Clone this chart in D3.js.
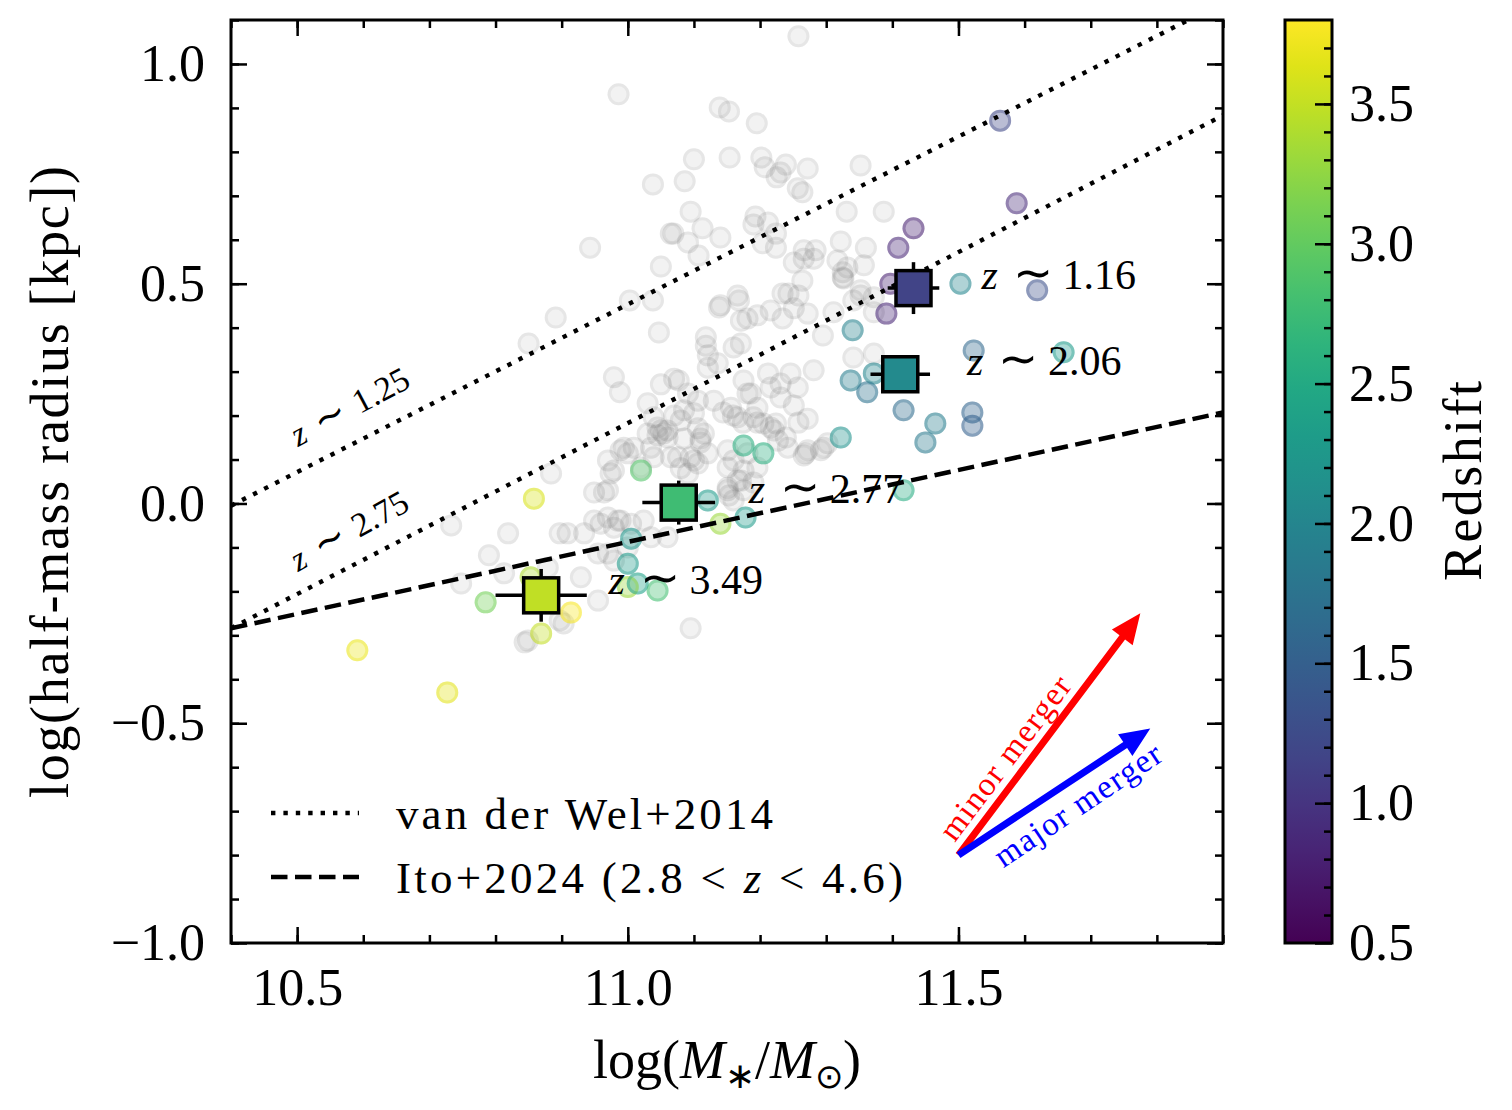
<!DOCTYPE html>
<html><head><meta charset="utf-8">
<script src="https://cdn.jsdelivr.net/npm/d3@7"></script>
<style>
body{margin:0;background:#fff}
svg text{font-family:"Liberation Serif","Times New Roman",serif;fill:#000}
</style>
</head><body>
<svg id="c" width="1512" height="1110"></svg>
<script>
// ---------------- data ----------------
// background (grey) galaxies: [log M*, log r_half]
const greyPoints = [
[11.258,1.063],[10.986,0.931],[11.139,0.901],[11.153,0.892],[11.195,0.865],[11.100,0.783],[11.154,0.787],[11.202,0.787],
[11.239,0.771],[11.272,0.762],[11.207,0.765],[11.225,0.742],[11.231,0.753],[11.257,0.717],[11.264,0.708],[11.352,0.769],
[11.038,0.726],[11.086,0.733],[11.095,0.664],[11.113,0.626],[11.140,0.605],[11.065,0.614],[11.069,0.614],[11.091,0.594],
[10.943,0.582],[11.193,0.653],[11.190,0.635],[11.212,0.639],[11.224,0.614],[11.331,0.664],[11.387,0.664],[11.322,0.596],
[11.360,0.582],[11.266,0.576],[11.284,0.576],[11.107,0.564],[11.204,0.592],[11.224,0.582],[11.050,0.539],[11.251,0.548],
[11.266,0.557],[11.281,0.557],[11.317,0.553],[11.325,0.526],[11.326,0.512],[11.357,0.542],[10.891,0.423],[11.003,0.462],
[11.038,0.462],[11.166,0.473],[11.138,0.446],[11.234,0.478],[11.243,0.478],[11.258,0.473],[11.264,0.507],[11.171,0.416],
[11.181,0.421],[11.196,0.428],[11.216,0.439],[11.234,0.421],[11.251,0.444],[11.272,0.432],[11.311,0.435],[11.352,0.473],
[11.295,0.382],[11.047,0.389],[11.118,0.378],[11.118,0.359],[11.160,0.355],[11.171,0.364],[10.979,0.287],[10.988,0.253],
[11.050,0.271],[11.070,0.284],[11.077,0.280],[11.121,0.309],[11.136,0.319],[11.030,0.228],[11.091,0.250],[11.106,0.234],
[11.130,0.234],[11.175,0.280],[11.186,0.250],[11.212,0.296],[11.216,0.264],[11.231,0.273],[11.231,0.241],[11.246,0.296],
[11.257,0.264],[11.251,0.223],[11.281,0.303],[11.144,0.207],[11.159,0.200],[11.174,0.184],[11.196,0.184],[11.216,0.173],
[11.224,0.182],[11.239,0.150],[11.258,0.184],[11.272,0.193],[11.296,0.127],[11.269,0.114],[11.140,0.451],[11.168,0.462],
[11.121,0.337],[11.039,0.196],[11.045,0.173],[11.054,0.159],[11.035,0.127],[11.070,0.200],[11.085,0.212],[11.100,0.205],
[11.106,0.171],[11.115,0.159],[11.110,0.139],[11.085,0.148],[11.076,0.105],[11.100,0.098],[11.156,0.218],[11.166,0.196],
[11.190,0.196],[11.205,0.182],[11.227,0.143],[10.994,0.127],[11.000,0.114],[10.970,0.098],[10.974,0.068],[10.949,0.025],
[10.964,0.025],[11.065,0.105],[11.080,0.080],[11.106,0.091],[11.121,0.114],[11.151,0.082],[11.160,0.098],[11.171,0.052],
[11.151,0.036],[11.190,0.048],[11.196,0.082],[11.266,0.109],[11.292,0.121],[11.302,0.137],[11.153,0.018],[10.884,0.068],
[10.733,-0.050],[10.819,-0.068],[10.790,-0.118],[10.748,-0.182],[10.813,-0.159],[10.879,-0.146],[10.909,-0.068],[10.934,-0.068],
[10.979,0.075],[11.009,0.127],[11.030,0.159],[11.045,0.155],[11.060,0.166],[10.949,-0.039],[10.959,-0.046],[10.970,-0.032],
[10.979,-0.055],[10.985,-0.039],[11.005,-0.046],[10.929,-0.168],[10.955,-0.221],[10.903,-0.273],[10.849,-0.312],[11.095,-0.284],
[11.020,0.082],[11.039,0.105],[11.095,0.105],[11.160,0.007],[11.175,0.075],[11.181,0.114],[10.955,-0.114],[10.970,-0.114],
[10.979,-0.130],[11.000,-0.100],[11.050,0.166],[11.060,0.150],[10.989,0.121],[11.080,0.189],[11.110,0.148],[11.181,0.250],
[11.196,0.218],[11.221,0.166],[11.272,0.121],[11.242,0.127],[11.151,0.121],[11.166,0.052],[11.151,0.030],[11.175,0.030],
[11.091,0.068],[10.970,0.030],[10.989,-0.039],[11.024,-0.039],[11.035,-0.077],[11.060,-0.077],[10.850,0.364],[10.897,-0.068],
[10.844,-0.316],[10.897,-0.266],[11.332,0.537],[11.325,0.514],[11.352,0.485],[11.372,0.469],[11.341,0.462],[11.372,0.435],
[11.341,0.332],[11.372,0.341]
];
// coloured galaxies
const colMass   = [11.563,11.588,11.432,11.409,11.397,11.391,11.503,11.619,11.340,11.523,11.659,11.337,11.372,11.362,11.417,11.465,11.450,11.521,11.521,11.322,11.417,11.175,11.205,11.020,11.121,11.140,11.178,11.005,11.000,11.000,11.015,11.045,10.858,10.785,10.914,10.869,10.853,10.591,10.727];
const colRadius = [0.871,0.683,0.626,0.582,0.500,0.432,0.500,0.485,0.394,0.348,0.344,0.280,0.296,0.253,0.212,0.182,0.139,0.207,0.177,0.150,0.030,0.132,0.114,0.075,0.007,-0.046,-0.032,-0.080,-0.137,-0.190,-0.182,-0.198,0.011,-0.225,-0.248,-0.296,-0.168,-0.334,-0.430];
const colZ      = [1.20,0.90,0.80,0.85,0.80,0.85,2.00,1.30,1.95,1.60,2.30,1.90,2.00,1.75,1.65,1.90,1.85,1.55,1.50,2.20,2.55,2.60,2.60,2.90,2.30,3.30,2.30,2.25,2.30,3.30,2.40,2.80,3.60,3.10,3.75,3.50,3.40,3.70,3.65];
// binned medians
const binZ      = [1.16,2.06,2.77,3.49];
const binMass   = [11.432,11.412,11.077,10.869];
const binRadius = [0.490,0.294,0.002,-0.209];
const binMassErr   = [0.039,0.045,0.055,0.069];
const binRadiusErr = [0.059,0.030,0.050,0.060];
const binLabels = ["1.16","2.06","2.77","3.49"];
// relations (end points)
const relMass = [10.4,11.9];
const vdw125Radius = [-0.005,1.140];
const vdw275Radius = [-0.284,0.883];
const itoRadius = [-0.284,0.207];
// axis ticks
const xTicks = [10.5,11.0,11.5];
const yTicks = [-1.0,-0.5,0.0,0.5,1.0];
const cbTicks = [0.5,1.0,1.5,2.0,2.5,3.0,3.5];
// merger vectors
const mergerStart = [11.5,-0.80];
const minorEnd = [11.775,-0.250];
const majorEnd = [11.790,-0.512];

// ---------------- layout ----------------
const L=231,R=1223,T=20,B=943;
const x = d3.scaleLinear().domain([10.4,11.9]).range([L,R]);
const y = d3.scaleLinear().domain([-1.0,1.1]).range([B,T]);
const cbX0=1285, cbX1=1332;
const zScale = d3.scaleLinear().domain([0.5,3.8]).range([B,T]);
const color = z => d3.interpolateViridis((z-0.5)/3.3);

const svg = d3.select("#c");
const defs = svg.append("defs");
defs.append("clipPath").attr("id","clip").append("rect").attr("x",L).attr("y",T).attr("width",R-L).attr("height",B-T);
const plot = svg.append("g").attr("clip-path","url(#clip)");

function points(g, data, fx, fy, fc, op){
  const gg = g.append("g");
  gg.selectAll("circle.f").data(data).join("circle").attr("class","f")
    .attr("cx",fx).attr("cy",fy).attr("r",11).attr("fill",fc).attr("fill-opacity",op);
  gg.selectAll("circle.e").data(data).join("circle").attr("class","e")
    .attr("cx",fx).attr("cy",fy).attr("r",9.5).attr("fill","none").attr("stroke",fc).attr("stroke-width",3).attr("stroke-opacity",op);
}
points(plot, greyPoints, d=>x(d[0]), d=>y(d[1]), ()=>"#808080", 0.10);
const colIdx = d3.range(colMass.length);
points(plot, colIdx, i=>x(colMass[i]), i=>y(colRadius[i]), i=>color(colZ[i]), 0.36);

// relations
const line = d3.line().x(d=>x(d[0])).y(d=>y(d[1]));
const rel = (ys)=>relMass.map((m,i)=>[m,ys[i]]);
plot.append("path").attr("d",line(rel(vdw125Radius))).attr("fill","none").attr("stroke","#000").attr("stroke-width",4.4).attr("stroke-dasharray","4.4,8");
plot.append("path").attr("d",line(rel(vdw275Radius))).attr("fill","none").attr("stroke","#000").attr("stroke-width",4.4).attr("stroke-dasharray","4.4,8");
plot.append("path").attr("d",line(rel(itoRadius))).attr("fill","none").attr("stroke","#000").attr("stroke-width",4.5).attr("stroke-dasharray","16.5,7.5");

// line labels
function zLabel(g, cx, cy, rot, fs, num, gap1, gap2){
  const t = g.append("text").attr("transform",`translate(${cx},${cy}) rotate(${rot})`).attr("font-size",fs);
  t.append("tspan").attr("x",0).attr("font-style","italic").text("z");
  t.append("tspan").attr("x",gap1).attr("font-size",fs*1.15).text("\u223C");
  t.append("tspan").attr("x",gap2).text(num);
  return t;
}
zLabel(svg, 298, 447, -28, 34, "1.25", 26, 70);
zLabel(svg, 298, 572, -29, 34, "2.75", 26, 70);

// binned squares
const bins = svg.append("g");
binZ.forEach((z,i)=>{
  const cx=x(binMass[i]), cy=y(binRadius[i]);
  bins.append("line").attr("x1",x(binMass[i]-binMassErr[i])).attr("x2",x(binMass[i]+binMassErr[i])).attr("y1",cy).attr("y2",cy).attr("stroke","#000").attr("stroke-width",3.5);
  bins.append("line").attr("x1",cx).attr("x2",cx).attr("y1",y(binRadius[i]-binRadiusErr[i])).attr("y2",y(binRadius[i]+binRadiusErr[i])).attr("stroke","#000").attr("stroke-width",3.5);
  bins.append("rect").attr("x",cx-17.5).attr("y",cy-17.5).attr("width",35).attr("height",35).attr("fill",color(z)).attr("stroke","#000").attr("stroke-width",3.5);
});
// bin annotations
const annPos = [[11.535,0.487],[11.513,0.292],[11.183,0.000],[10.971,-0.205]];
binLabels.forEach((lab,i)=>{
  zLabel(svg, x(annPos[i][0]), y(annPos[i][1]), 0, 42, lab, 31, 81);
});

// merger arrows
function arrow(s, e, col, w, hl, hw){
  const sx=x(s[0]), sy=y(s[1]), ex=x(e[0]), ey=y(e[1]);
  const dx=ex-sx, dy=ey-sy, len=Math.hypot(dx,dy);
  const ux=dx/len, uy=dy/len, nx=-uy, ny=ux;
  const bx=ex-ux*hl, by=ey-uy*hl;
  const pts=[[sx+nx*w/2,sy+ny*w/2],[bx+nx*w/2,by+ny*w/2],[bx+nx*hw/2,by+ny*hw/2],[ex,ey],
             [bx-nx*hw/2,by-ny*hw/2],[bx-nx*w/2,by-ny*w/2],[sx-nx*w/2,sy-ny*w/2]];
  svg.append("polygon").attr("points",pts.map(p=>p.join(",")).join(" ")).attr("fill",col);
}
arrow(mergerStart, minorEnd, "#ff0000", 7, 30, 26);
arrow(mergerStart, majorEnd, "#0000ff", 7, 30, 26);
svg.append("text").attr("transform","translate(1005,757) rotate(-53)").attr("text-anchor","middle").attr("dy","0.35em")
  .attr("font-size",33).style("fill","#ff0000").attr("letter-spacing",1.5).text("minor merger");
svg.append("text").attr("transform","translate(1078,804) rotate(-34)").attr("text-anchor","middle").attr("dy","0.35em")
  .attr("font-size",33).style("fill","#0000ff").attr("letter-spacing",1.5).text("major merger");

// legend
const lg = svg.append("g");
lg.append("line").attr("x1",271).attr("x2",359).attr("y1",813).attr("y2",813).attr("stroke","#000").attr("stroke-width",4.4).attr("stroke-dasharray","4.4,8");
lg.append("line").attr("x1",271).attr("x2",359).attr("y1",877).attr("y2",877).attr("stroke","#000").attr("stroke-width",4.5).attr("stroke-dasharray","16.5,7.5");
lg.append("text").attr("x",396).attr("y",829).attr("font-size",45).attr("textLength",377).attr("lengthAdjust","spacing").text("van der Wel+2014");
const t2 = lg.append("text").attr("x",396).attr("y",893).attr("font-size",45).attr("textLength",507).attr("lengthAdjust","spacing");
t2.append("tspan").text("Ito+2024 (2.8 < ");
t2.append("tspan").attr("font-style","italic").text("z");
t2.append("tspan").text(" < 4.6)");

// axes
const fmt = d3.format(".1f");
function styleAxis(g){ g.select(".domain").remove(); g.selectAll(".tick line").attr("stroke","#000").attr("stroke-width",2.5);
  g.selectAll("text").attr("font-family",'"Liberation Serif","Times New Roman",serif').attr("font-size",52).attr("fill","#000"); g.attr("font-family",null).attr("font-size",null);}
const xMinor = d3.range(10.4,11.95,0.1).map(v=>+v.toFixed(1));
const yMinor = d3.range(-1.0,1.15,0.1).map(v=>+v.toFixed(1));
// bottom
svg.append("g").attr("transform",`translate(0,${B})`).call(d3.axisBottom(x).tickValues(xMinor).tickSize(-8).tickFormat("")).call(styleAxis);
svg.append("g").attr("transform",`translate(0,${B})`).call(d3.axisBottom(x).tickValues(xTicks).tickSize(-16).tickPadding(25).tickFormat(fmt)).call(styleAxis);
// top
svg.append("g").attr("transform",`translate(0,${T})`).call(d3.axisTop(x).tickValues(xMinor).tickSize(-8).tickFormat("")).call(styleAxis);
svg.append("g").attr("transform",`translate(0,${T})`).call(d3.axisTop(x).tickValues(xTicks).tickSize(-16).tickFormat("")).call(styleAxis);
// left
svg.append("g").attr("transform",`translate(${L},0)`).call(d3.axisLeft(y).tickValues(yMinor).tickSize(-8).tickFormat("")).call(styleAxis);
svg.append("g").attr("transform",`translate(${L},0)`).call(d3.axisLeft(y).tickValues(yTicks).tickSize(-16).tickPadding(26).tickFormat(fmt)).call(styleAxis);
// right
svg.append("g").attr("transform",`translate(${R},0)`).call(d3.axisRight(y).tickValues(yMinor).tickSize(-8).tickFormat("")).call(styleAxis);
svg.append("g").attr("transform",`translate(${R},0)`).call(d3.axisRight(y).tickValues(yTicks).tickSize(-16).tickFormat("")).call(styleAxis);
svg.append("rect").attr("x",L).attr("y",T).attr("width",R-L).attr("height",B-T).attr("fill","none").attr("stroke","#000").attr("stroke-width",3);

// axis labels
const xl = svg.append("text").attr("x",727).attr("y",1078).attr("text-anchor","middle").attr("font-size",54);
xl.append("tspan").text("log(");
xl.append("tspan").attr("font-style","italic").text("M");
xl.append("tspan").attr("font-size",36).attr("dy",10).text("\u2217");
xl.append("tspan").attr("dy",-10).text("/");
xl.append("tspan").attr("font-style","italic").text("M");
xl.append("tspan").attr("font-size",34).attr("dy",10).text("\u2299");
xl.append("tspan").attr("dy",-10).text(")");
svg.append("text").attr("transform","translate(68,482) rotate(-90)").attr("text-anchor","middle").attr("font-size",54)
  .attr("textLength",632).attr("lengthAdjust","spacing").text("log(half-mass radius [kpc])");

// colorbar
const grad = defs.append("linearGradient").attr("id","vir").attr("x1",0).attr("y1",1).attr("x2",0).attr("y2",0);
d3.range(0,1.0001,0.05).forEach(t=>grad.append("stop").attr("offset",t).attr("stop-color",d3.interpolateViridis(t)));
svg.append("rect").attr("x",cbX0).attr("y",T).attr("width",cbX1-cbX0).attr("height",B-T).attr("fill","url(#vir)");
const cbMinor = d3.range(0.6,3.75,0.1).map(v=>+v.toFixed(1));
svg.append("g").attr("transform",`translate(${cbX1},0)`).call(d3.axisRight(zScale).tickValues(cbMinor).tickSize(-8).tickFormat("")).call(styleAxis);
svg.append("g").attr("transform",`translate(${cbX1},0)`).call(d3.axisRight(zScale).tickValues(cbTicks).tickSize(-17).tickPadding(17).tickFormat(fmt)).call(styleAxis);
svg.append("rect").attr("x",cbX0).attr("y",T).attr("width",cbX1-cbX0).attr("height",B-T).attr("fill","none").attr("stroke","#000").attr("stroke-width",3);
svg.append("text").attr("transform","translate(1481,481) rotate(-90)").attr("text-anchor","middle").attr("font-size",54)
  .attr("textLength",200).attr("lengthAdjust","spacing").text("Redshift");
</script>
</body></html>
